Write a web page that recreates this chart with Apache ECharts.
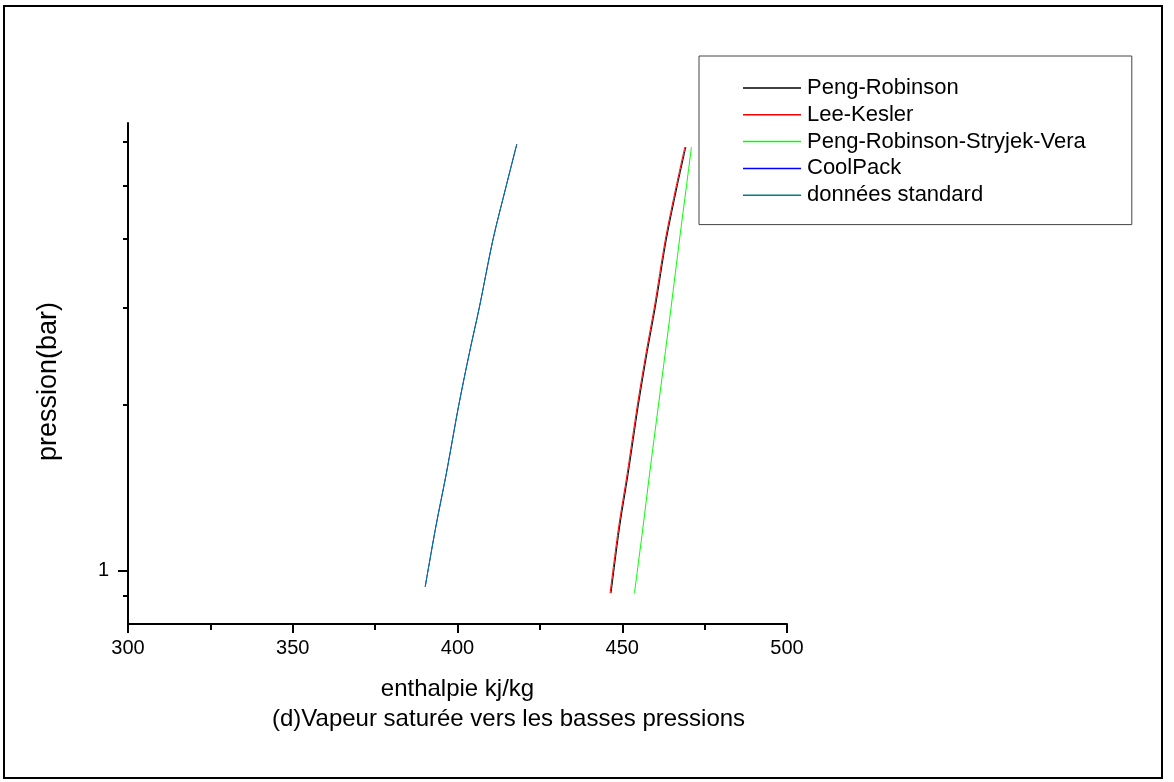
<!DOCTYPE html>
<html>
<head>
<meta charset="utf-8">
<script src="https://cdn.jsdelivr.net/npm/echarts@6/dist/echarts.min.js"></script>
<style>
  html,body{margin:0;padding:0;background:#fff;}
  #main{position:absolute;left:0;top:0;width:1174px;height:782px;}
  #frame{position:absolute;left:3px;top:5px;width:1156px;height:770px;border:2px solid #000;pointer-events:none;}
</style>
</head>
<body>
<div id="main"></div>
<div id="frame"></div>
<script>
// valeurs (pression en bar, enthalpie en kJ/kg)
var seriesNames = ['Peng-Robinson','Lee-Kesler','Peng-Robinson-Stryjek-Vera','CoolPack','données standard'];
var pressureLow = [0.935,1.2,1.5,2,2.5,3,4,5,5.95];
var pressureHigh = [0.91,1.2,1.5,2,2.5,3,4,5,5.88];
var pengRobinson = [446.6,449.2,451.8,454.9,457.6,460.0,463.4,466.7,469.3];
var leeKesler = [446.3,448.9,451.5,454.6,457.3,459.7,463.1,466.4,469.0];
var prsv = [453.7,456.3,458.3,461.0,463.1,464.8,467.4,469.5,471.0];
var coolPack = [390.2,393.4,396.6,400.4,403.7,406.6,410.8,414.8,418.0];
var standardData = [390.2,393.4,396.6,400.4,403.7,406.6,410.8,414.8,418.0];
var xTicks = [300,500,50];
var yMajorTicks = [1];
var yMinorTicks = [0.9,2,3,4,5,6];

function pairs(h,p){
  var out = [];
  for(var i = 0;i < h.length;i ++){
    out.push([h[i],p[i]]);
  }
  return out;
}

var font = 'Arial, "Liberation Sans", sans-serif';
var mychart = echarts.init(document.getElementById('main'));
mychart.setOption({
  animation:false,
  backgroundColor:'#fff',
  textStyle:{fontFamily:font,color:'#000'},
  title:{
    text:'(d)Vapeur saturée vers les basses pressions',
    left:272,
    top:707,
    padding:0,
    textStyle:{fontSize:24,fontWeight:'normal',fontFamily:font,color:'#000'}
  },
  grid:{left:128,right:387,top:123,bottom:158},
  legend:{
    orient:'vertical',
    left:699,
    top:56,
    padding:[21,46,18.4,44],
    icon:'rect',
    itemWidth:58,
    itemHeight:1.5,
    itemGap:4.8,
    borderColor:'#444',
    borderWidth:1,
    textStyle:{fontSize:22,fontFamily:font,color:'#000',padding:[0,0,0,1]},
    data:seriesNames
  },
  xAxis:{
    type:'value',
    min:xTicks[0],
    max:xTicks[1],
    interval:xTicks[2],
    name:'enthalpie kj/kg',
    nameLocation:'middle',
    nameGap:53,
    nameTextStyle:{fontSize:24,fontFamily:font,color:'#000'},
    axisLine:{lineStyle:{color:'#000',width:2}},
    axisTick:{length:9,lineStyle:{color:'#000',width:2}},
    minorTick:{show:true,splitNumber:2,length:6,lineStyle:{color:'#000',width:2}},
    axisLabel:{fontSize:20,margin:14,color:'#000',fontFamily:font},
    splitLine:{show:false}
  },
  yAxis:[{
    type:'log',
    logBase:10,
    min:0.8,
    max:6.5,
    name:'pression(bar)',
    nameLocation:'middle',
    nameGap:66,
    nameTextStyle:{fontSize:27,fontFamily:font,color:'#000',padding:[0,16,0,0]},
    axisLine:{show:true,lineStyle:{color:'#000',width:2}},
    axisTick:{show:true,length:10,customValues:yMajorTicks,lineStyle:{color:'#000',width:2}},
    axisLabel:{fontSize:20,margin:19,color:'#000',fontFamily:font,customValues:yMajorTicks},
    splitLine:{show:false}
  },{
    type:'log',
    logBase:10,
    min:0.8,
    max:6.5,
    position:'left',
    axisLine:{show:false},
    axisTick:{show:true,length:5,customValues:yMinorTicks,lineStyle:{color:'#000',width:2}},
    axisLabel:{show:false},
    splitLine:{show:false}
  }],
  series:[
    {name:seriesNames[0],type:'line',symbol:'none',smooth:0.3,color:'#000000',lineStyle:{width:1},data:pairs(pengRobinson,pressureHigh)},
    {name:seriesNames[1],type:'line',symbol:'none',smooth:0.3,color:'#ff0000',lineStyle:{width:1},data:pairs(leeKesler,pressureHigh)},
    {name:seriesNames[2],type:'line',symbol:'none',smooth:0.3,color:'#00ff00',lineStyle:{width:1},data:pairs(prsv,pressureHigh)},
    {name:seriesNames[3],type:'line',symbol:'none',smooth:0.3,color:'#0000ff',lineStyle:{width:1},data:pairs(coolPack,pressureLow)},
    {name:seriesNames[4],type:'line',symbol:'none',smooth:0.3,color:'#008080',lineStyle:{width:1},data:pairs(standardData,pressureLow)}
  ]
});
</script>
</body>
</html>
